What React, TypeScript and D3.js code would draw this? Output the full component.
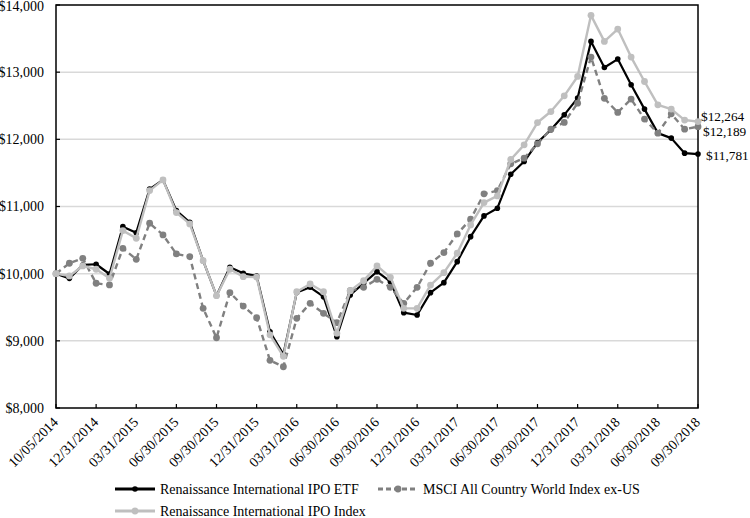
import React from "react";
import * as d3 from "d3";

const dates = ["10/05/2014","10/31/2014","11/30/2014","12/31/2014","01/31/2015","02/28/2015","03/31/2015","04/30/2015","05/31/2015","06/30/2015","07/31/2015","08/31/2015","09/30/2015","10/31/2015","11/30/2015","12/31/2015","01/31/2016","02/29/2016","03/31/2016","04/30/2016","05/31/2016","06/30/2016","07/31/2016","08/31/2016","09/30/2016","10/31/2016","11/30/2016","12/31/2016","01/31/2017","02/28/2017","03/31/2017","04/30/2017","05/31/2017","06/30/2017","07/31/2017","08/31/2017","09/30/2017","10/31/2017","11/30/2017","12/31/2017","01/31/2018","02/28/2018","03/31/2018","04/30/2018","05/31/2018","06/30/2018","07/31/2018","08/31/2018","09/30/2018"];

const etf = [10000, 9930, 10130, 10140, 9995, 10700, 10610, 11258, 11396, 10939, 10766, 10194, 9672, 10095, 10005, 9966, 9136, 8800, 9720, 9797, 9657, 9061, 9683, 9857, 10030, 9881, 9419, 9384, 9717, 9866, 10179, 10551, 10860, 10975, 11481, 11669, 11952, 12142, 12365, 12614, 13458, 13070, 13195, 12812, 12450, 12092, 12018, 11794, 11781];

const ipoIndex = [10000, 9966, 10115, 10066, 9931, 10641, 10527, 11237, 11396, 10909, 10741, 10194, 9672, 10066, 9955, 9950, 9090, 8770, 9732, 9846, 9732, 9112, 9747, 9896, 10115, 9946, 9484, 9484, 9830, 10015, 10304, 10726, 11058, 11158, 11700, 11918, 12250, 12414, 12648, 12936, 13846, 13458, 13642, 13225, 12861, 12514, 12450, 12287, 12264];

const msci = [10000, 10155, 10229, 9857, 9832, 10378, 10214, 10751, 10577, 10294, 10254, 9484, 9046, 9717, 9518, 9344, 8710, 8614, 9335, 9559, 9410, 9270, 9747, 9797, 9916, 9797, 9559, 9797, 10155, 10313, 10592, 10811, 11188, 11237, 11635, 11720, 11933, 12151, 12251, 12539, 13225, 12610, 12400, 12599, 12301, 12092, 12380, 12151, 12189];

const yTicks = [8000, 9000, 10000, 11000, 12000, 13000, 14000];
const tickDates = dates.filter((_, i) => i % 3 === 0);

const seriesNames = ["Renaissance International IPO ETF", "MSCI All Country World Index ex-US", "Renaissance International IPO Index"];

const FONT = "Liberation Serif, Times New Roman, Times, serif";

export default function App() {
  const W = 750, H = 518;
  const L = 56, R = 698, T = 5, B = 408;
  const x = d3.scalePoint<string>().domain(dates).range([L, R]);
  const y = d3.scaleLinear().domain([8000, 14000]).range([B, T]);
  const fmt = (v: number) => "$" + d3.format(",")(v);
  const line = d3.line<number>().x((_, i) => x(dates[i])!).y((d) => y(d));

  const series = [
    { name: seriesNames[0], data: etf, color: "#000000", dash: "", width: 2.2, r: 2.8 },
    { name: seriesNames[1], data: msci, color: "#808080", dash: "6,4", width: 2.4, r: 3.4 },
    { name: seriesNames[2], data: ipoIndex, color: "#bfbfbf", dash: "", width: 2.4, r: 3.4 },
  ];

  const endLabels = [
    { v: ipoIndex[48], dy: -5, dx: 3 },
    { v: msci[48], dy: 5, dx: 5 },
    { v: etf[48], dy: 1, dx: 8 },
  ];

  const legend = [
    { s: series[0], lx: 115, ly: 489 },
    { s: series[1], lx: 378, ly: 489 },
    { s: series[2], lx: 115, ly: 511 },
  ];

  const ts: React.CSSProperties = { fontFamily: FONT, fontSize: "14px" };
  const tsEnd: React.CSSProperties = { fontFamily: FONT, fontSize: "13.3px" };

  return (
    <div style={{ position: "absolute", left: 0, top: 0 }}>
      <svg width={W} height={H} style={{ display: "block", background: "#fff" }}>
        {yTicks.slice(1, -1).map((t) => (
          <line key={t} x1={L} x2={R} y1={y(t)} y2={y(t)} stroke="#d9d9d9" strokeWidth={1.5} />
        ))}
        <rect x={L} y={T} width={R - L} height={B - T} fill="none" stroke="#000" strokeWidth={1.5} />
        {yTicks.map((t) => (
          <g key={t}>
            <line x1={L} x2={L + 4} y1={y(t)} y2={y(t)} stroke="#000" strokeWidth={1.2} />
            <text x={44} y={y(t) + (t === 14000 ? 1 : 0)} dy="0.35em" textAnchor="end" style={ts} fill="#000">{fmt(t)}</text>
          </g>
        ))}
        {tickDates.map((d) => (
          <g key={d}>
            <line x1={x(d)} x2={x(d)} y1={B} y2={B - 4} stroke="#000" strokeWidth={1.2} />
            <text transform={`translate(${x(d)! + 3},${B + 15}) rotate(-45)`} textAnchor="end" style={ts} fill="#000">{d}</text>
          </g>
        ))}
        {series.map((s) => (
          <g key={s.name}>
            <path d={line(s.data)!} fill="none" stroke={s.color} strokeWidth={s.width} strokeDasharray={s.dash} strokeLinejoin="round" />
            {s.data.map((v, i) => (
              <circle key={i} cx={x(dates[i])} cy={y(v)} r={s.r} fill={s.color} />
            ))}
          </g>
        ))}
        {endLabels.map((e, i) => (
          <text key={i} x={R + e.dx} y={y(e.v) + e.dy} dy="0.35em" style={tsEnd} fill="#000">{fmt(e.v)}</text>
        ))}
        {legend.map(({ s, lx, ly }) => (
          <g key={s.name}>
            <line x1={lx} x2={lx + 40} y1={ly} y2={ly} stroke={s.color} strokeWidth={s.width + 0.6} strokeDasharray={s.dash ? "5,3" : ""} />
            <circle cx={lx + 20} cy={ly} r={s.r} fill={s.color} />
            <text x={lx + 45} y={ly} dy="0.35em" style={ts} fill="#000">{s.name}</text>
          </g>
        ))}
      </svg>
    </div>
  );
}
